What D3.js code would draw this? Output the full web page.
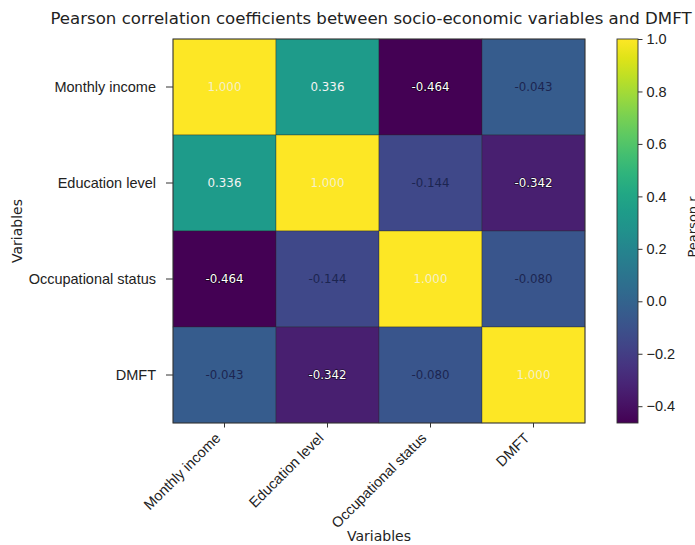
<!DOCTYPE html>
<html>
<head>
<meta charset="utf-8">
<script src="https://cdn.jsdelivr.net/npm/d3@7"></script>
<style>
  html, body { margin: 0; padding: 0; background: #fff; }
  svg { display: block; font-family: "DejaVu Sans", sans-serif; }
</style>
</head>
<body>
<svg id="chart" width="695" height="545"></svg>
<script>
// Variables in the correlation matrix (row order = column order)
const variables = ["Monthly income", "Education level", "Occupational status", "DMFT"];

// Pearson r, one array per row
const rowMonthlyIncome = [1.000, 0.336, -0.464, -0.043];
const rowEducation     = [0.336, 1.000, -0.144, -0.342];
const rowOccupational  = [-0.464, -0.144, 1.000, -0.080];
const rowDMFT          = [-0.043, -0.342, -0.080, 1.000];
const matrix = [rowMonthlyIncome, rowEducation, rowOccupational, rowDMFT];

// Colour bar ticks
const colorbarTicks = [-0.4, -0.2, 0.0, 0.2, 0.4, 0.6, 0.8, 1.0];

const titleText = "Pearson correlation coefficients between socio-economic variables and DMFT";

const svg = d3.select("#chart");

const plot = { left: 173, top: 39, width: 412, height: 384 };
const cbar = { left: 617, width: 21 };
const tickFont = 14.5;

const vmin = d3.min(matrix.flat());
const vmax = d3.max(matrix.flat());
const color = d3.scaleSequential(d3.interpolateViridis).domain([vmin, vmax]);

const x = d3.scaleBand().domain(variables).range([plot.left, plot.left + plot.width]);
const y = d3.scaleBand().domain(variables).range([plot.top, plot.top + plot.height]);

const cells = [];
matrix.forEach((row, i) => row.forEach((v, j) => cells.push({ r: variables[i], c: variables[j], v })));

// Heatmap cells
svg.append("g").selectAll("rect").data(cells).join("rect")
  .attr("x", d => x(d.c))
  .attr("y", d => y(d.r))
  .attr("width", x.bandwidth())
  .attr("height", y.bandwidth())
  .attr("fill", d => color(d.v))
  .attr("stroke", "rgba(40,40,40,0.45)")
  .attr("stroke-width", 0.8);

// Cell annotations
const ann = svg.append("g").selectAll("text").data(cells).join("text")
  .attr("x", d => x(d.c) + x.bandwidth() / 2)
  .attr("y", d => y(d.r) + y.bandwidth() / 2)
  .attr("dy", "0.35em")
  .attr("text-anchor", "middle")
  .attr("font-size", 11.8)
  .text(d => d3.format(".3f")(d.v).replace("−", "-"));
ann.filter(d => d.v < -0.3)
  .attr("fill", "#fff")
  .attr("stroke", "rgba(0,0,0,0.55)")
  .attr("stroke-width", 1.6)
  .attr("paint-order", "stroke");
ann.filter(d => d.v >= -0.3 && d.v < 0.2).attr("fill", "#1c2550");
ann.filter(d => d.v >= 0.2 && d.v < 0.9).attr("fill", "#f4f4f4");
ann.filter(d => d.v >= 0.9).attr("fill", "#f5f0c8");

// Plot frame
svg.append("rect")
  .attr("x", plot.left).attr("y", plot.top)
  .attr("width", plot.width).attr("height", plot.height)
  .attr("fill", "none").attr("stroke", "#333").attr("stroke-width", 0.9);

// Axes
const xAxis = svg.append("g")
  .attr("transform", `translate(0,${plot.top + plot.height})`)
  .call(d3.axisBottom(x).tickSize(4.5).tickPadding(4));
xAxis.select(".domain").remove();
xAxis.selectAll("text")
  .attr("font-size", tickFont)
  .attr("fill", "#222")
  .attr("text-anchor", "end")
  .attr("x", 0).attr("y", 0).attr("dy", 0)
  .attr("transform", "translate(-3,16) rotate(-45)");

const yAxis = svg.append("g")
  .attr("transform", `translate(${plot.left},0)`)
  .call(d3.axisLeft(y).tickSize(7).tickPadding(10));
yAxis.select(".domain").remove();
yAxis.selectAll("text").attr("font-size", tickFont).attr("fill", "#222");
svg.selectAll(".tick line").attr("stroke", "#333");

// Axis titles
svg.append("text")
  .attr("x", plot.left + plot.width / 2)
  .attr("y", 541)
  .attr("text-anchor", "middle")
  .attr("font-size", 14)
  .attr("fill", "#222")
  .text("Variables");

svg.append("text")
  .attr("transform", `translate(22,${plot.top + plot.height / 2}) rotate(-90)`)
  .attr("text-anchor", "middle")
  .attr("font-size", 14)
  .attr("fill", "#222")
  .text("Variables");

// Title
svg.append("text")
  .attr("x", 371)
  .attr("y", 24)
  .attr("text-anchor", "middle")
  .attr("font-size", 16.6)
  .attr("fill", "#222")
  .text(titleText);

// Colour bar
const cy = d3.scaleLinear().domain([vmin, vmax]).range([plot.top + plot.height, plot.top]);
const defs = svg.append("defs");
const grad = defs.append("linearGradient")
  .attr("id", "viridis-grad")
  .attr("x1", 0).attr("y1", 1).attr("x2", 0).attr("y2", 0);
d3.range(0, 1.0001, 0.05).forEach(t => {
  grad.append("stop").attr("offset", t).attr("stop-color", d3.interpolateViridis(t));
});
svg.append("rect")
  .attr("x", cbar.left).attr("y", plot.top)
  .attr("width", cbar.width).attr("height", plot.height)
  .attr("fill", "url(#viridis-grad)")
  .attr("stroke", "#333").attr("stroke-width", 0.9);

const cAxis = svg.append("g")
  .attr("transform", `translate(${cbar.left + cbar.width},0)`)
  .call(d3.axisRight(cy).tickValues(colorbarTicks).tickSize(4.5).tickPadding(4)
    .tickFormat(d => d3.format(".1f")(d)));
cAxis.select(".domain").remove();
cAxis.selectAll("text").attr("font-size", tickFont).attr("fill", "#222");
cAxis.selectAll(".tick line").attr("stroke", "#333");

svg.append("text")
  .attr("transform", `translate(697,${plot.top + plot.height / 2 - 4}) rotate(-90)`)
  .attr("text-anchor", "middle")
  .attr("font-size", 13)
  .attr("fill", "#222")
  .text("Pearson r");
</script>
</body>
</html>
